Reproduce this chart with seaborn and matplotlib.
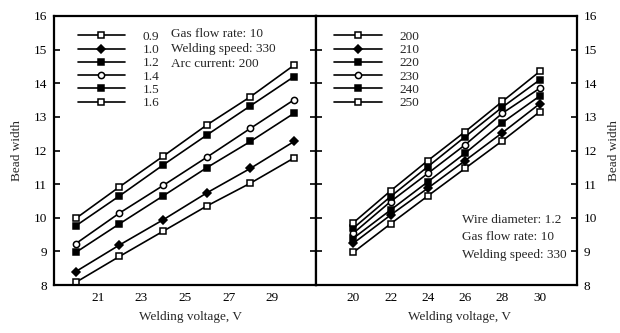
import matplotlib
matplotlib.use("Agg")
import matplotlib.pyplot as plt
from matplotlib.lines import Line2D
import seaborn as sns
import pandas as pd

sns.set_theme(style="white")
plt.rcParams["font.family"] = ["Liberation Serif", "DejaVu Serif"]
plt.rcParams["mathtext.fontset"] = "stix"

voltage = [20, 22, 24, 26, 28, 30]

# Effect of wire diameter (gas flow 10, speed 330, current 200)
wire_labels = ["0.9", "1.0", "1.2", "1.4", "1.5", "1.6"]
wire_09 = [8.08, 8.85, 9.60, 10.35, 11.03, 11.78]
wire_10 = [8.40, 9.19, 9.94, 10.74, 11.47, 12.27]
wire_12 = [8.97, 9.82, 10.65, 11.49, 12.27, 13.11]
wire_14 = [9.23, 10.14, 10.96, 11.80, 12.66, 13.51]
wire_15 = [9.76, 10.65, 11.57, 12.46, 13.33, 14.20]
wire_16 = [9.98, 10.92, 11.83, 12.76, 13.60, 14.54]

# Effect of arc current (wire 1.2, gas flow 10, speed 330)
current_labels = ["200", "210", "220", "230", "240", "250"]
cur_200 = [8.97, 9.82, 10.65, 11.47, 12.29, 13.15]
cur_210 = [9.24, 10.08, 10.88, 11.70, 12.53, 13.39]
cur_220 = [9.39, 10.23, 11.07, 11.92, 12.83, 13.62]
cur_230 = [9.54, 10.48, 11.32, 12.17, 13.11, 13.85]
cur_240 = [9.69, 10.63, 11.52, 12.41, 13.29, 14.10]
cur_250 = [9.85, 10.80, 11.70, 12.56, 13.46, 14.35]

left_ticks = [21, 23, 25, 27, 29]
right_ticks = [20, 22, 24, 26, 28, 30]
y_ticks = [8, 9, 10, 11, 12, 13, 14, 15, 16]

# marker style per series: (marker, filled, size)
styles = [("s", False, 4.5), ("D", True, 4.0), ("s", True, 5.0),
          ("o", False, 4.5), ("s", True, 5.0), ("s", False, 5.0)]

fs = 9.5
fig = plt.figure(figsize=(6.2, 3.33), dpi=100)
W, H = 620, 333
axL = fig.add_axes([54 / W, (H - 285) / H, 262 / W, 269 / H])
axR = fig.add_axes([316 / W, (H - 285) / H, 261 / W, 269 / H])


def draw(ax, labels, series):
    handles = []
    for lab, ys, (mk, filled, ms) in zip(labels, series, styles):
        df = pd.DataFrame({"x": voltage, "y": ys})
        sns.lineplot(data=df, x="x", y="y", ax=ax, color="black", lw=1.2,
                     marker=mk, markersize=ms, markeredgewidth=1.1,
                     markerfacecolor="black" if filled else "white",
                     markeredgecolor="black", legend=False)
        handles.append(Line2D([], [], color="black", lw=1.2, marker=mk,
                              markersize=ms, markeredgewidth=1.1,
                              markerfacecolor="black" if filled else "white",
                              markeredgecolor="black", label=lab))
    return handles


hL = draw(axL, wire_labels, [wire_09, wire_10, wire_12, wire_14, wire_15, wire_16])
hR = draw(axR, current_labels, [cur_200, cur_210, cur_220, cur_230, cur_240, cur_250])

axL.set_xlim(19, 31)
axR.set_xlim(18, 32)
for ax in (axL, axR):
    ax.set_ylim(8, 16)
    ax.set_yticks(y_ticks)
    for s in ax.spines.values():
        s.set_linewidth(1.6)
        s.set_color("black")
    ax.tick_params(axis="both", direction="in", length=4, width=1.2,
                   labelsize=fs, colors="black", pad=5)

axL.set_xlabel("Welding voltage, V", fontsize=fs, labelpad=5, x=0.52)
axR.set_xlabel("Welding voltage, V", fontsize=fs, labelpad=5, x=0.55)
axL.set_xticks(left_ticks)
axR.set_xticks(right_ticks)
axL.tick_params(axis="y", left=True, right=True, labelleft=True, labelright=False)
axR.tick_params(axis="y", left=True, right=True, labelleft=False, labelright=True)
axL.set_ylabel("Bead width", fontsize=fs, labelpad=8)
axR.set_ylabel("Bead width", fontsize=fs, labelpad=8)
axR.yaxis.set_label_position("right")

legkw = dict(frameon=False, fontsize=fs, handlelength=3.6, handletextpad=1.3,
             labelspacing=0.08, borderaxespad=0.2, loc="upper left")
axL.legend(handles=hL, bbox_to_anchor=(0.06, 0.975), **legkw)
axR.legend(handles=hR, bbox_to_anchor=(0.04, 0.975), **legkw)

axL.text(0.445, 0.955, "Gas flow rate: 10\nWelding speed: 330\nArc current: 200",
         transform=axL.transAxes, fontsize=fs, va="top", ha="left",
         linespacing=1.3)
axR.text(0.56, 0.265, "Wire diameter: 1.2\nGas flow rate: 10\nWelding speed: 330",
         transform=axR.transAxes, fontsize=fs, va="top", ha="left",
         linespacing=1.6)

fig.savefig("out.png", dpi=100)
